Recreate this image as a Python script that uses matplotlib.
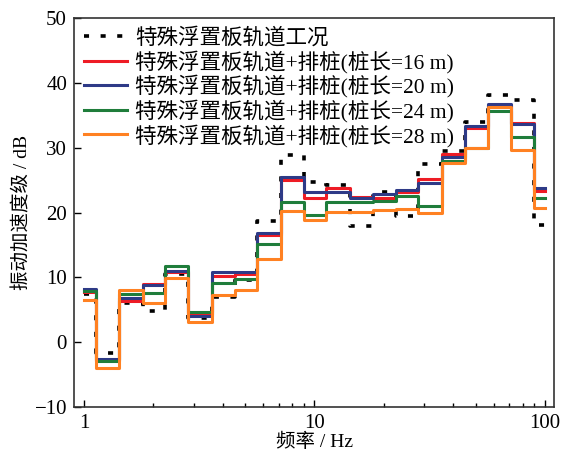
import matplotlib
matplotlib.use('Agg')
import matplotlib.pyplot as plt
from matplotlib.ticker import FixedLocator, NullFormatter

plt.rcParams['font.family'] = ['Liberation Serif', 'Noto Sans CJK SC']
plt.rcParams['axes.unicode_minus'] = True

# 1/3 octave band centre frequencies
freq = [1, 1.25, 1.6, 2, 2.5, 3.15, 4, 5, 6.3, 8, 10, 12.5, 16, 20, 25,
        31.5, 40, 50, 63, 80, 100]

# floating slab track only
base = [7.5, -1.7, 6.0, 4.8, 10.5, 3.8, 7.0, 9.6, 18.7, 28.9, 24.7, 24.3,
        17.9, 23.1, 19.4, 27.5, 29.5, 34.0, 38.2, 37.3, 18.1]
# with pile row, pile length 16 / 20 / 24 / 28 m
pile16 = [7.8, -2.7, 6.4, 9.0, 10.8, 4.4, 10.2, 10.5, 16.5, 25.0, 22.3, 23.8,
          22.4, 22.3, 23.2, 25.2, 29.0, 33.0, 36.6, 33.8, 23.3]
pile20 = [8.2, -2.6, 6.8, 8.8, 11.0, 4.0, 10.9, 10.9, 16.8, 25.4, 23.2, 23.1,
          22.3, 22.8, 23.5, 24.5, 28.5, 33.4, 36.7, 33.7, 23.8]
pile24 = [7.9, -2.9, 7.4, 7.6, 11.7, 4.6, 9.2, 9.8, 15.1, 21.6, 19.6, 21.6,
          21.6, 21.8, 22.6, 21.0, 28.0, 30.0, 35.7, 31.6, 22.3]
pile28 = [6.5, -4.0, 8.1, 6.0, 9.9, 3.1, 7.2, 8.1, 12.9, 20.3, 18.8, 20.1,
          20.1, 20.4, 20.6, 20.0, 27.6, 29.9, 36.3, 29.7, 20.7]

labels = ['特殊浮置板轨道工况',
          '特殊浮置板轨道+排桩(桩长=16 m)',
          '特殊浮置板轨道+排桩(桩长=20 m)',
          '特殊浮置板轨道+排桩(桩长=24 m)',
          '特殊浮置板轨道+排桩(桩长=28 m)']

fig = plt.figure(figsize=(5.66, 4.57), dpi=100)
ax = fig.add_axes([0.1307, 0.1094, 0.8483, 0.8512])

ax.step(freq, base, where='mid', color='black', lw=2.6,
        linestyle=(0, (1.4, 3.2)), label=labels[0], zorder=2)
ax.step(freq, pile16, where='mid', color='#ee1c25', lw=2.2, label=labels[1], zorder=3)
ax.step(freq, pile20, where='mid', color='#2e3a87', lw=2.2, label=labels[2], zorder=4)
ax.step(freq, pile24, where='mid', color='#1f7d3b', lw=2.2, label=labels[3], zorder=5)
ax.step(freq, pile28, where='mid', color='#ff8122', lw=2.2, label=labels[4], zorder=6)

ax.set_xscale('log')
ax.set_xlim(0.905, 109.5)
ax.set_ylim(-10, 50)
ax.xaxis.set_major_locator(FixedLocator([1, 10, 100]))
ax.set_xticklabels(['1', '10', '100'])
minors = [k * d for d in (1, 10) for k in range(2, 10)]
ax.xaxis.set_minor_locator(FixedLocator(minors))
ax.xaxis.set_minor_formatter(NullFormatter())
ax.set_yticks([-10, 0, 10, 20, 30, 40, 50])

ax.tick_params(which='both', direction='in', labelsize=15, width=1.0)
ax.tick_params(which='major', length=5)
ax.tick_params(which='minor', length=3)
ax.tick_params(axis='y', pad=5)
ax.tick_params(axis='x', pad=5)
for s in ax.spines.values():
    s.set_linewidth(1.2)
    s.set_color('#333333')

ax.set_xlabel('频率 / Hz', fontsize=14, labelpad=0)
ax.set_ylabel('振动加速度级 / dB', fontsize=14, labelpad=2)

ax.legend(loc='upper left', frameon=False, fontsize=15.5, handlelength=2.0,
          handletextpad=0.4, labelspacing=0.08, borderaxespad=0.2,
          borderpad=0.25)

fig.savefig('out.png', dpi=100)
